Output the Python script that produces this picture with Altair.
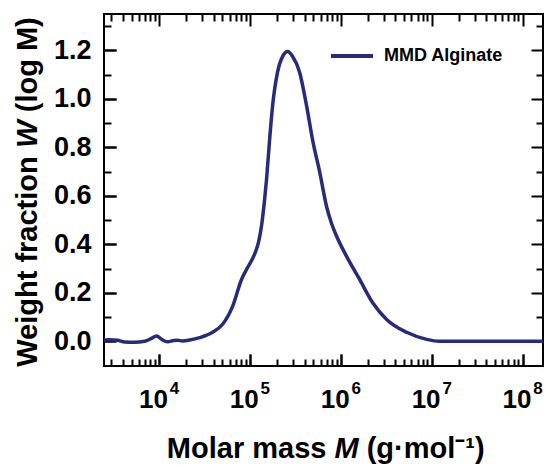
import altair as alt
import pandas as pd

# ---- data ----
molar_mass = [2490, 2870, 3510, 4200, 5400, 6970, 8320, 9440, 10700, 12500, 14500, 16100,
              18200, 21800, 28100, 39000, 50200, 64700, 81300, 92300, 113000, 125000,
              135000, 146000, 153000, 165000, 178000, 202000, 230000, 261000, 296000,
              353000, 422000, 491000, 586000, 700000, 795000, 902000, 1160000, 1610000,
              2240000, 3200000, 5310000, 8810000, 12200000, 168000000]
weight_fraction = [0.005, 0.006, 0.004, -0.003, -0.004, 0.0, 0.012, 0.022, 0.008, -0.002,
                   0.003, 0.004, 0.001, 0.005, 0.015, 0.037, 0.07, 0.144, 0.256, 0.297,
                   0.36, 0.41, 0.48, 0.59, 0.67, 0.83, 0.97, 1.11, 1.175, 1.195, 1.175,
                   1.11, 0.97, 0.83, 0.70, 0.555, 0.485, 0.433, 0.35, 0.256, 0.16, 0.09,
                   0.037, 0.008, 0.0, 0.0]
series_name = "MMD Alginate"

x_major = [1e4, 1e5, 1e6, 1e7, 1e8]
x_minor = [k * 10 ** d for d in range(3, 9) for k in range(2, 10)
           if 2490 <= k * 10 ** d <= 1.68e8]
y_major = [0.0, 0.2, 0.4, 0.6, 0.8, 1.0, 1.2]
y_minor = [0.1, 0.3, 0.5, 0.7, 0.9, 1.1, 1.3]

df = pd.DataFrame({"M": molar_mass, "W": weight_fraction, "series": series_name})

LINE_COLOR = "#272b7a"
FONT = "Liberation Sans"
W_PLOT, H_PLOT = 439, 352
PAD_L, PAD_T = 104, 14

xs = alt.Scale(type="log", domain=[2490, 1.68e8], nice=False)
ys = alt.Scale(domain=[-0.102, 1.35], nice=False, zero=False)

MAJ, MIN = 12, 7


def xaxis(orient, values, size, labels=None):
    kw = dict(orient=orient, values=values, tickSize=size, offset=-size, domain=False,
              grid=False, labels=labels is not None, tickColor="black", tickWidth=2)
    if labels == "base":
        kw.update(labelExpr="'10'", labelFont=FONT, labelFontWeight="bold",
                  labelFontSize=26, labelColor="black", labelPadding=20, labelOffset=-6)
    elif labels == "exp":
        kw.update(labelExpr="format(round(log(datum.value)/LN10), 'd')", labelFont=FONT,
                  labelFontWeight="bold", labelFontSize=17, labelColor="black",
                  labelPadding=14, labelOffset=15)
    return alt.Axis(**kw)


def yaxis(orient, values, size, labels=False):
    kw = dict(orient=orient, values=values, tickSize=size, offset=-size, domain=False,
              grid=False, labels=labels, tickColor="black", tickWidth=2)
    if labels:
        kw.update(format=".1f", labelFont=FONT, labelFontWeight="bold", labelFontSize=27,
                  labelColor="black", labelPadding=13)
    return alt.Axis(**kw)


base = alt.Chart(df)

main = base.mark_line(strokeWidth=3.5, interpolate="monotone").encode(
    x=alt.X("M:Q", scale=xs, axis=xaxis("bottom", x_major, MAJ, "base"), title=None),
    y=alt.Y("W:Q", scale=ys, axis=yaxis("left", y_major, MAJ, True), title=None),
    color=alt.Color("series:N", scale=alt.Scale(range=[LINE_COLOR]),
                    legend=alt.Legend(orient="none", legendX=225, legendY=19, title=None,
                                      symbolType="stroke", symbolSize=1764,
                                      symbolStrokeWidth=4, labelFont=FONT,
                                      labelFontWeight="bold", labelFontSize=18,
                                      labelColor="black", labelOffset=9, padding=0)),
)


def ghost(xax, yax):
    return base.mark_line(opacity=0).encode(
        x=alt.X("M:Q", scale=xs, axis=xax, title=None),
        y=alt.Y("W:Q", scale=ys, axis=yax, title=None),
    )


l2 = ghost(xaxis("bottom", x_minor, MIN), yaxis("left", y_minor, MIN))
l3 = ghost(xaxis("top", x_major, MAJ), yaxis("right", y_major, MAJ))
l4 = ghost(xaxis("top", x_minor, MIN), yaxis("right", y_minor, MIN))
l5 = ghost(xaxis("bottom", x_major, MAJ, "exp"), yaxis("left", y_major, MAJ))

# ---- titles with italic symbols ----
TF = 29
EM = {"Molar mass": 5.502, "M": 0.833, "sp": 0.278, "(g·mol⁻¹)": 4.016,
      "Weight fraction": 7.278, "W": 0.944, "(log M)": 3.277}
one = alt.Data(values=[{}])


def txt(s, x, y, italic=False, angle=0):
    return alt.Chart(one).mark_text(font=FONT, fontWeight="bold", fontSize=TF,
                                    fontStyle="italic" if italic else "normal",
                                    align="left", baseline="alphabetic", color="black",
                                    angle=angle).encode(
        x=alt.value(x), y=alt.value(y), text=alt.value(s))


# x title
xt_total = (EM["Molar mass"] + EM["sp"] + EM["M"] + EM["sp"] + EM["(g·mol⁻¹)"]) * TF
x0 = 325 - PAD_L - xt_total / 2
xb = 458 - PAD_T
xm = x0 + (EM["Molar mass"] + EM["sp"]) * TF
x3 = xm + (EM["M"] + EM["sp"]) * TF
xtitle = [txt("Molar mass", x0, xb), txt("M", xm, xb, True), txt("(g·mol⁻¹)", x3, xb)]

# y title (rotated)
yt_total = (EM["Weight fraction"] + EM["sp"] + EM["W"] + EM["sp"] + EM["(log M)"]) * TF
y0 = 192 - PAD_T + yt_total / 2
yb = 37 - PAD_L
yw = y0 - (EM["Weight fraction"] + EM["sp"]) * TF
y3 = yw - (EM["W"] + EM["sp"]) * TF
ytitle = [txt("Weight fraction", yb, y0, angle=270), txt("W", yb, yw, True, 270),
          txt("(log M)", yb, y3, angle=270)]

chart = alt.layer(main, l2, l3, l4, l5, *xtitle, *ytitle).resolve_scale(
    x="shared", y="shared").resolve_axis(x="independent", y="independent").properties(
    width=W_PLOT, height=H_PLOT,
    padding={"left": PAD_L, "top": PAD_T, "right": 546 - PAD_L - W_PLOT,
             "bottom": 466 - PAD_T - H_PLOT},
    autosize=alt.AutoSizeParams(type="none"),
).configure(background="white",
            view=alt.ViewConfig(stroke="black", strokeWidth=2))

chart.save("out.html", embed_options={"renderer": "svg", "actions": False})
